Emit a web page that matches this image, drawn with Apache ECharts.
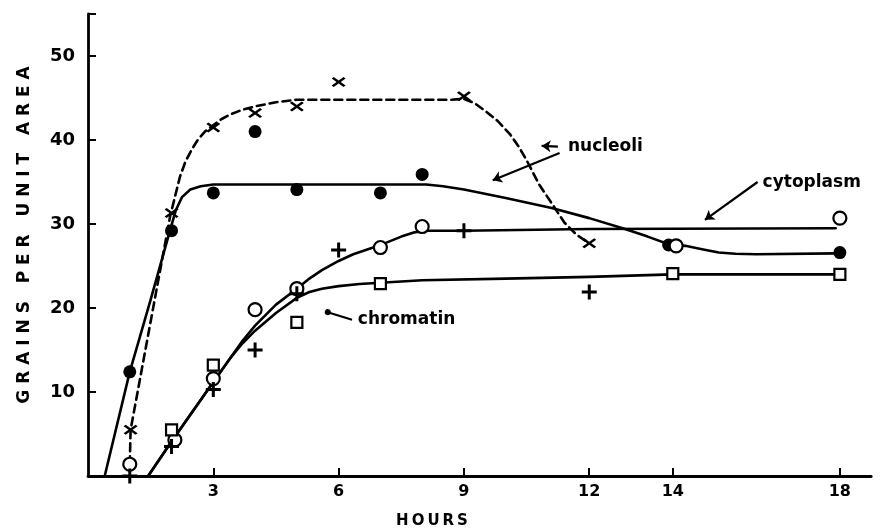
<!DOCTYPE html>
<html><head><meta charset="utf-8">
<script src="https://cdn.jsdelivr.net/npm/echarts@6.0.0/dist/echarts.min.js"></script>
<style>html,body{margin:0;padding:0;background:#fff}#c{width:880px;height:531px}</style>
</head><body><div id="c"></div>
<script>
// ---- Tick labels ----
const xTickHours = [3, 6, 9, 12, 14, 18];
const yTickValues = [10, 20, 30, 40, 50];

// ---- Measured points (hours, grains per unit area) ----
const closedHours = [1, 2, 3, 4, 5, 7, 8, 13.9, 18];
const closedVals  = [12.4, 29.2, 33.7, 41.0, 34.1, 33.7, 35.9, 27.5, 26.6];

const crossHours = [1.02, 2, 3, 4, 5, 6, 9, 12];
const crossVals  = [5.5, 31.3, 41.5, 43.2, 44.0, 46.9, 45.2, 27.7];

const openHours = [1, 2.08, 3, 4, 5, 7, 8, 14.08, 18];
const openVals  = [1.4, 4.3, 11.6, 19.8, 22.3, 27.2, 29.7, 27.4, 30.7];

const plusHours = [1, 2, 3, 4, 5, 6, 9, 12];
const plusVals  = [0, 3.5, 10.3, 15.0, 21.7, 26.9, 29.2, 21.9];

const squareHours = [2, 3, 5, 7, 14, 18];
const squareVals  = [5.5, 13.2, 18.3, 22.9, 24.1, 24.0];

// ---- Fitted curves as drawn in the figure (hours, value) ----
const solidCurveH = [0.4, 1.0, 1.5, 1.95, 2.1, 2.25, 2.45, 2.7, 3.0, 8.1, 8.5, 9.0, 10.0, 11.1, 12.0, 12.8, 13.4, 13.9, 14.3, 14.7, 15.1, 15.5, 16.0, 17.9];
const solidCurveV = [0, 12.4, 21.0, 29.0, 31.6, 33.2, 34.1, 34.5, 34.7, 34.7, 34.5, 34.1, 33.1, 31.9, 30.7, 29.5, 28.5, 27.6, 27.4, 27.0, 26.6, 26.45, 26.4, 26.5];

const dashCurveH = [1.0, 1.02, 1.5, 1.97, 2.1, 2.2, 2.33, 2.5, 2.64, 2.8, 2.98, 3.2, 3.43, 3.7, 4.0, 4.5, 5.0, 8.7, 9.0, 9.25, 9.5, 9.8, 10.1, 10.3, 10.5, 10.8, 11.15, 11.4, 11.7, 12.0];
const dashCurveV = [1.4, 5.5, 18.4, 31.0, 33.6, 35.6, 37.4, 39.0, 40.1, 41.0, 41.7, 42.5, 43.1, 43.6, 44.0, 44.5, 44.8, 44.8, 44.9, 44.4, 43.5, 42.3, 40.7, 39.3, 37.6, 34.7, 32.1, 30.2, 28.7, 27.7];

const cytoCurveH = [1.44, 2.0, 3.0, 3.4, 3.7, 4.0, 4.5, 5.0, 5.3, 5.6, 6.0, 6.35, 6.95, 7.5, 7.8, 8.1, 8.5, 9.0, 12.0, 17.9];
const cytoCurveV = [0, 4.1, 11.2, 14.0, 16.1, 17.9, 20.4, 22.3, 23.5, 24.5, 25.6, 26.4, 27.4, 28.5, 29.0, 29.2, 29.2, 29.2, 29.4, 29.5];

const chromCurveH = [1.44, 2.0, 3.0, 3.4, 3.7, 4.0, 4.5, 5.0, 5.3, 5.6, 6.0, 6.5, 7.0, 8.0, 10.0, 12.0, 14.0, 17.9];
const chromCurveV = [0, 4.1, 11.2, 14.0, 15.8, 17.3, 19.4, 21.2, 21.9, 22.3, 22.6, 22.85, 23.0, 23.3, 23.5, 23.7, 24.0, 24.0];

// ---- Annotation texts ----
const annotTexts = ['nucleoli', 'cytoplasm', 'chromatin'];
const xTitle = 'H\u2009O\u2009U\u2009R\u2009S';
const yTitle = 'G R A I N S   P E R   U N I T   A R E A';

// annotation anchors (data coordinates)
const annotAnchors = [[11.49, 39.2], [16.15, 34.9], [6.46, 18.6]];
const arrowSegs = [
  {from: [11.25, 39.2], to: [10.86, 39.3], head: 'arrow'},
  {from: [11.29, 38.45], to: [9.69, 35.2], head: 'arrow'},
  {from: [16.03, 35.0], to: [14.77, 30.5], head: 'arrow'},
  {from: [6.32, 18.6], to: [5.74, 19.5], head: 'circle'}
];

const pairs = (xs, ys) => xs.map((x, i) => [x, ys[i]]);
const FONT = 'DejaVu Sans';
const BLACK = '#000';

const plusPath = 'path://M4,0H6V4H10V6H6V10H4V6H0V4H4Z';
const xPath = 'path://M0,1.5L1.5,0L5,3.5L8.5,0L10,1.5L6.5,5L10,8.5L8.5,10L5,6.5L1.5,10L0,8.5L3.5,5Z';

function curve(h, v, dashed) {
  return {
    type: 'line', data: pairs(h, v), symbol: 'none', smooth: false,
    silent: true, z: 2,
    lineStyle: {color: BLACK, width: 2.6, type: dashed ? [8, 5] : 'solid', join: 'round', cap: 'round'}
  };
}
function marks(h, v, opt) {
  return Object.assign({
    type: 'scatter', data: pairs(h, v), silent: true, z: 4, clip: false
  }, opt);
}

const chart = echarts.init(document.getElementById('c'), null, {renderer: 'canvas'});
chart.setOption({
  animation: false,
  backgroundColor: '#fff',
  grid: {left: 88, top: 14, width: 783.2, height: 462, containLabel: false, outerBoundsMode: 'none'},
  xAxis: {
    type: 'value', min: 0, max: 18.75,
    axisLine: {show: true, onZero: false, lineStyle: {color: BLACK, width: 2.8}},
    axisTick: {show: true, inside: true, length: 8, customValues: xTickHours, lineStyle: {color: BLACK, width: 2}},
    axisLabel: {customValues: xTickHours, color: BLACK, fontFamily: FONT, fontWeight: 'bold', fontSize: 16, margin: 8},
    splitLine: {show: false}
  },
  yAxis: {
    type: 'value', min: 0, max: 55,
    axisLine: {show: true, lineStyle: {color: BLACK, width: 2.8}},
    axisTick: {show: true, inside: true, length: 8, customValues: yTickValues.concat([55]), lineStyle: {color: BLACK, width: 2}},
    axisLabel: {customValues: yTickValues, color: BLACK, fontFamily: FONT, fontWeight: 'bold', fontSize: 18, margin: 13},
    splitLine: {show: false}
  },
  graphic: [
    {type: 'text', x: 432, y: 521, style: {text: xTitle, font: 'bold 15px "DejaVu Sans"', fill: BLACK, align: 'center', verticalAlign: 'middle'}},
    {type: 'text', x: 25, y: 235, rotation: Math.PI / 2, style: {text: yTitle, font: 'bold 17px "DejaVu Sans"', fill: BLACK, align: 'center', verticalAlign: 'middle'}}
  ],
  series: [
    curve(solidCurveH, solidCurveV, false),
    curve(dashCurveH, dashCurveV, true),
    curve(cytoCurveH, cytoCurveV, false),
    curve(chromCurveH, chromCurveV, false),
    marks(closedHours, closedVals, {symbol: 'circle', symbolSize: 13, itemStyle: {color: BLACK, opacity: 1}}),
    marks(crossHours, crossVals, {symbol: xPath, symbolSize: [14, 10], itemStyle: {color: BLACK, opacity: 1}}),
    marks(openHours, openVals, {symbol: 'circle', symbolSize: 13, itemStyle: {color: '#fff', borderColor: BLACK, borderWidth: 2.2, opacity: 1}}),
    marks(plusHours, plusVals, {symbol: plusPath, symbolSize: 15, itemStyle: {color: BLACK, opacity: 1}}),
    marks(squareHours, squareVals, {symbol: 'rect', symbolSize: 11, itemStyle: {color: '#fff', borderColor: BLACK, borderWidth: 2.2, opacity: 1}}),
    {
      type: 'lines', coordinateSystem: 'cartesian2d', silent: true, z: 3,
      data: arrowSegs.map(s => ({coords: [s.from, s.to], symbol: ['none', s.head], symbolSize: s.head === 'arrow' ? 9 : 6})),
      lineStyle: {color: BLACK, width: 2.2, opacity: 1}
    },
    {
      type: 'scatter', silent: true, symbolSize: 0, z: 5,
      itemStyle: {opacity: 1},
      data: annotAnchors.map((p, i) => ({value: p, name: annotTexts[i]})),
      label: {show: true, position: 'right', distance: 0, formatter: p => p.name, opacity: 1,
        color: BLACK, fontFamily: FONT, fontWeight: 'bold', fontSize: 17}
    }
  ]
});
</script></body></html>
